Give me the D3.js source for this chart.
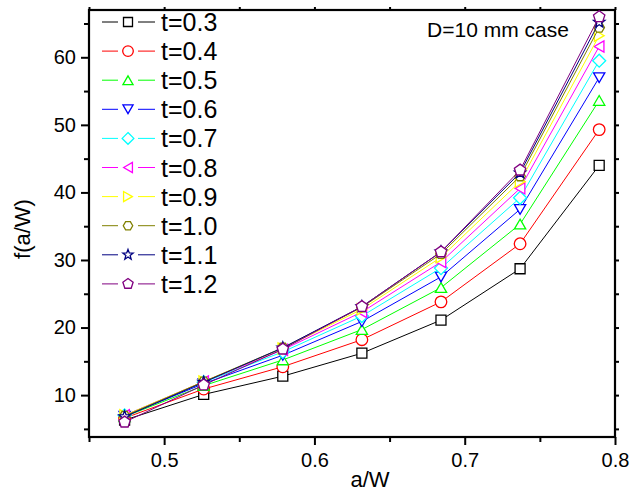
<!DOCTYPE html>
<html><head><meta charset="utf-8">
<script src="https://cdn.jsdelivr.net/npm/d3@7"></script>
<style>body{margin:0;background:#fff}svg{display:block}text{font-family:"Liberation Sans",Arial,Helvetica,sans-serif}</style>
</head><body><svg id="c" width="641" height="492"></svg>
<script>
const aW = [9/19, 10/19, 11/19, 12/19, 13/19, 14/19, 15/19];
const tLabels = ["t=0.3","t=0.4","t=0.5","t=0.6","t=0.7","t=0.8","t=0.9","t=1.0","t=1.1","t=1.2"];
const s03 = [6.3, 10.1, 12.8, 16.2, 21.1, 28.7, 44.0];
const s04 = [6.6, 10.9, 14.2, 18.2, 23.8, 32.4, 49.3];
const s05 = [6.8, 11.4, 15.2, 19.7, 25.9, 35.3, 53.6];
const s06 = [6.9, 11.7, 15.9, 20.9, 27.5, 37.5, 57.0];
const s07 = [7.0, 11.9, 16.4, 21.7, 28.8, 39.2, 59.5];
const s08 = [7.0, 12.0, 16.7, 22.3, 29.7, 40.6, 61.6];
const s09 = [7.0, 12.0, 16.9, 22.7, 30.4, 41.6, 63.2];
const s10 = [6.9, 12.0, 17.0, 23.0, 30.9, 42.4, 64.4];
const s11 = [6.8, 11.9, 17.0, 23.1, 31.2, 42.9, 65.2];
const s12 = [6.0, 11.5, 16.8, 23.1, 31.2, 43.3, 66.0];
const seriesValues = [s03,s04,s05,s06,s07,s08,s09,s10,s11,s12];
const colors = ["#000000","#ff0000","#00ff00","#0000ff","#00ffff","#ff00ff","#ffff00","#808000","#000080","#800080"];
const symbols = ["square","circle","triUp","triDown","diamond","triLeft","triRight","hexagon","star","pentagon"];
const xTicks = [0.5, 0.6, 0.7, 0.8];
const yTicks = [10, 20, 30, 40, 50, 60];
const annotation = "D=10 mm case";

const svg = d3.select("#c");
const L=89, R=615, T=10, B=437;
const x = d3.scaleLinear().domain([0.45, 0.8]).range([L, R]);
const y = d3.scaleLinear().domain([3.8, 67]).range([B, T]);

function shapePath(kind, s){
  const pts = (n, r, rot) => d3.range(n).map(i => { const a = rot + i*2*Math.PI/n; return [r*Math.cos(a), r*Math.sin(a)]; });
  const poly = p => "M" + p.map(q=>q.join(",")).join("L") + "Z";
  switch(kind){
    case "square": return poly([[-s,-s],[s,-s],[s,s],[-s,s]]);
    case "circle": return d3.symbol(d3.symbolCircle, Math.PI*(s+0.8)*(s+0.8))();
    case "triUp": return poly(pts(3, s*1.3, -Math.PI/2).map(p=>[p[0],p[1]+1.5]));
    case "triDown": return poly(pts(3, s*1.3, Math.PI/2).map(p=>[p[0],p[1]-1.5]));
    case "triLeft": return poly(pts(3, s*1.3, Math.PI).map(p=>[p[0]+1.5,p[1]]));
    case "triRight": return poly(pts(3, s*1.3, 0).map(p=>[p[0]-1.5,p[1]]));
    case "diamond": return poly([[0,-s*1.3],[s*1.3,0],[0,s*1.3],[-s*1.3,0]]);
    case "hexagon": return poly(pts(6, s*1.05, 0));
    case "pentagon": return poly(pts(5, s*1.2, -Math.PI/2));
    case "star": { const p=[]; for(let i=0;i<10;i++){const r=i%2?s*0.5:s*1.2; const a=-Math.PI/2+i*Math.PI/5; p.push([r*Math.cos(a), r*Math.sin(a)]);} return poly(p); }
  }
}

// axes
const gx = svg.append("g").attr("transform",`translate(0,${B})`)
  .call(d3.axisBottom(x).tickValues(xTicks).tickSize(8).tickPadding(8).tickFormat(d3.format(".1f")));
const gxm = svg.append("g").attr("transform",`translate(0,${B})`)
  .call(d3.axisBottom(x).tickValues([0.45,0.55,0.65,0.75]).tickSize(5).tickFormat(""));
const gy = svg.append("g").attr("transform",`translate(${L},0)`)
  .call(d3.axisLeft(y).tickValues(yTicks).tickSize(8).tickPadding(5).tickFormat(d3.format("d")));
const gym = svg.append("g").attr("transform",`translate(${L},0)`)
  .call(d3.axisLeft(y).tickValues([5,15,25,35,45,55,65]).tickSize(5).tickFormat(""));
const gt = svg.append("g").attr("transform",`translate(0,${T})`)
  .call(d3.axisTop(x).tickValues([0.45,0.5,0.55,0.6,0.65,0.7,0.75,0.8]).tickSize(3).tickFormat(""));
const gr = svg.append("g").attr("transform",`translate(${R},0)`)
  .call(d3.axisRight(y).tickValues([5,10,15,20,25,30,35,40,45,50,55,60,65]).tickSize(4).tickFormat(""));
[gx,gxm,gy,gym,gt,gr].forEach(g=>{
  g.select(".domain").remove();
  g.selectAll("line").attr("stroke","#000").attr("stroke-width",2);
  g.selectAll("text").attr("font-size",20).attr("fill","#000").attr("font-family","Liberation Sans, Arial, sans-serif");
});
svg.append("rect").attr("x",L).attr("y",T).attr("width",R-L).attr("height",B-T)
  .attr("fill","none").attr("stroke","#000").attr("stroke-width",2.2);

// series
const line = d3.line().x((d,i)=>x(aW[i])).y(d=>y(d));
seriesValues.forEach((vals, k) => {
  const g = svg.append("g");
  g.append("path").attr("d", line(vals)).attr("fill","none").attr("stroke",colors[k]).attr("stroke-width",1);
  g.selectAll("path.m").data(vals).join("path").attr("class","m")
    .attr("transform",(d,i)=>`translate(${x(aW[i])},${y(d)})`)
    .attr("d", shapePath(symbols[k], 5))
    .attr("fill","#fff").attr("stroke",colors[k]).attr("stroke-width",1.3);
});

// legend
const lg = svg.append("g");
tLabels.forEach((t,k)=>{
  const yy = 22 + k*29.1;
  lg.append("line").attr("x1",102).attr("x2",118).attr("y1",yy).attr("y2",yy).attr("stroke",colors[k]).attr("stroke-width",1);
  lg.append("line").attr("x1",138).attr("x2",155).attr("y1",yy).attr("y2",yy).attr("stroke",colors[k]).attr("stroke-width",1);
  lg.append("path").attr("transform",`translate(128,${yy})`).attr("d",shapePath(symbols[k],4.5))
    .attr("fill","#fff").attr("stroke",colors[k]).attr("stroke-width",1.3);
  lg.append("text").attr("x",161).attr("y",yy+9).attr("font-size",25).text(t);
});

svg.append("text").attr("x",498).attr("y",37).attr("text-anchor","middle").attr("font-size",21).text(annotation);
svg.append("text").attr("x",370).attr("y",487).attr("text-anchor","middle").attr("font-size",22).text("a/W");
svg.append("text").attr("transform",`translate(30,229) rotate(-90)`).attr("text-anchor","middle").attr("font-size",22).text("f(a/W)");
</script></body></html>
